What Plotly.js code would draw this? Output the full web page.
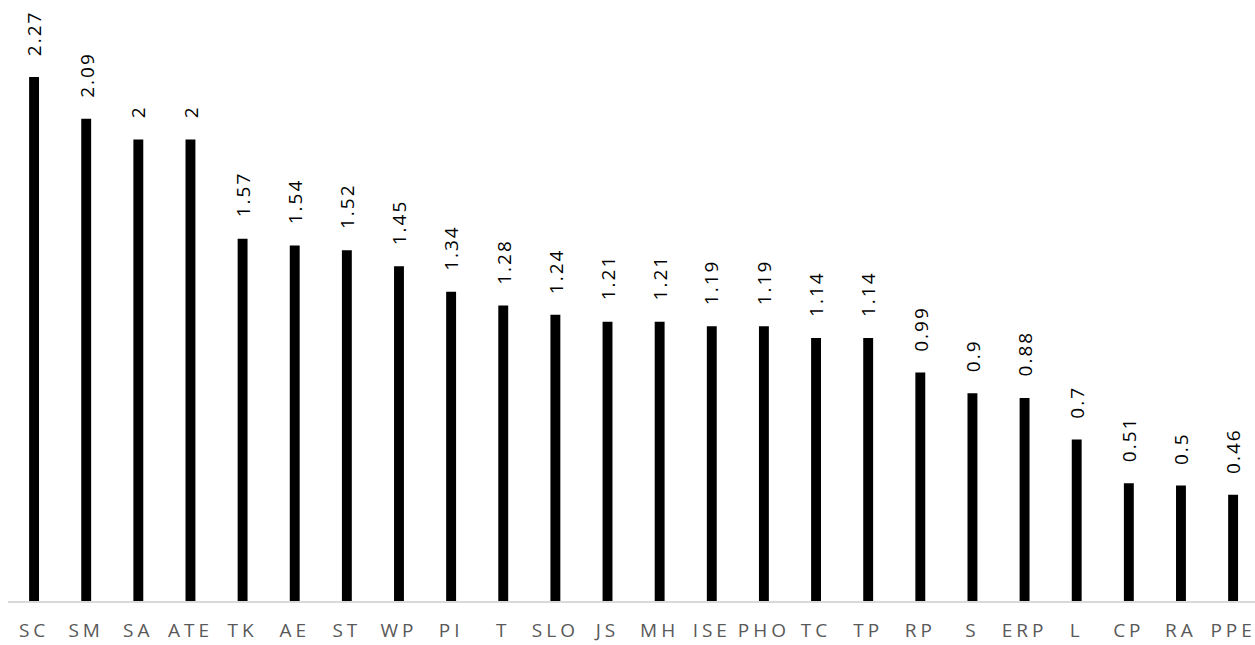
<!DOCTYPE html>
<html>
<head>
<meta charset="utf-8">
<script src="https://cdn.plot.ly/plotly-3.0.1.min.js"></script>
<style>
html, body { margin: 0; padding: 0; background: #fff; }
#chart { width: 1255px; height: 645px; }
.xtick text { letter-spacing: 4px; }
.annotation-text { letter-spacing: 2px; }
</style>
</head>
<body>
<div id="chart"></div>
<script>
const categories = ["SC","SM","SA","ATE","TK","AE","ST","WP","PI","T","SLO","JS","MH","ISE","PHO","TC","TP","RP","S","ERP","L","CP","RA","PPE"];
const values = [2.27,2.09,2,2,1.57,1.54,1.52,1.45,1.34,1.28,1.24,1.21,1.21,1.19,1.19,1.14,1.14,0.99,0.9,0.88,0.7,0.51,0.5,0.46];

const trace = {
  type: 'bar',
  x: categories,
  y: values,
  width: 0.19,
  marker: { color: '#000000' },
  hoverinfo: 'skip'
};

const annotations = categories.map((c, i) => ({
  x: c,
  y: values[i],
  xref: 'x',
  yref: 'y',
  text: String(values[i]),
  showarrow: false,
  textangle: -90,
  xanchor: 'center',
  yanchor: 'bottom',
  yshift: 19,
  font: { family: 'Open Sans, sans-serif', size: 19, color: '#000000' }
}));

const layout = {
  width: 1255,
  height: 645,
  margin: { l: 8, r: 0, t: 0, b: 44 },
  paper_bgcolor: '#ffffff',
  plot_bgcolor: '#ffffff',
  showlegend: false,
  xaxis: {
    type: 'category',
    range: [-0.5, 23.42],
    showline: true,
    linecolor: '#d9d9d9',
    linewidth: 2,
    ticks: '',
    showgrid: false,
    zeroline: false,
    tickfont: { family: 'Open Sans, sans-serif', size: 19, color: '#595959' },
    ticklabelstandoff: 11
  },
  yaxis: {
    range: [0, 2.604],
    visible: false,
    showgrid: false,
    zeroline: false
  },
  annotations: annotations
};

Plotly.newPlot('chart', [trace], layout, { displayModeBar: false, staticPlot: true });
</script>
</body>
</html>
